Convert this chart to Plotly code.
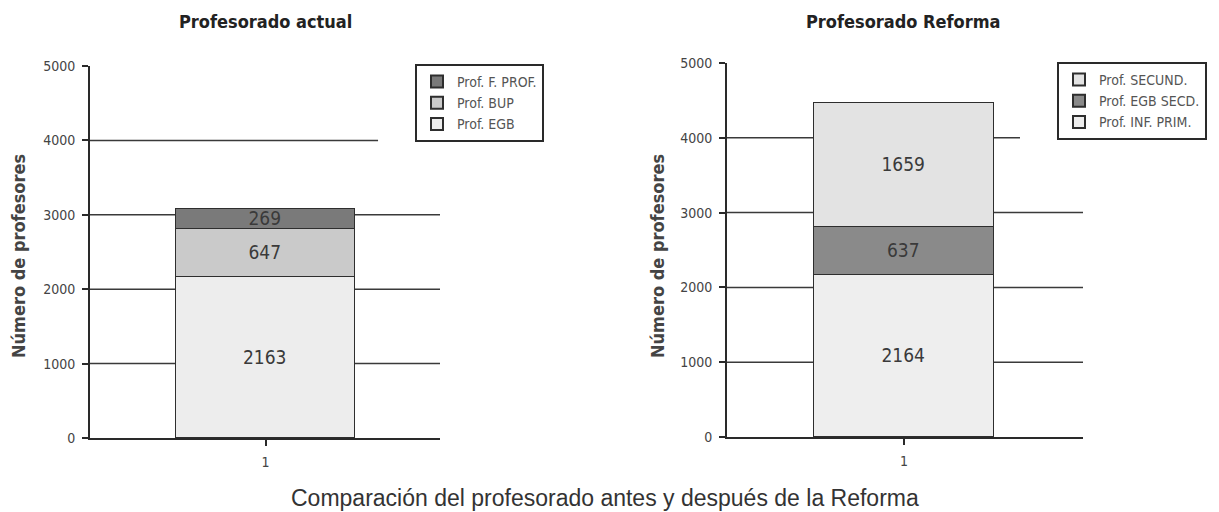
import plotly.graph_objects as go

categories = [1]
actual_labels = ["Prof. EGB", "Prof. BUP", "Prof. F. PROF."]
actual_values = [2163, 647, 269]
reforma_labels = ["Prof. INF. PRIM.", "Prof. EGB SECD.", "Prof. SECUND."]
reforma_values = [2164, 637, 1659]
y_ticks = [0, 1000, 2000, 3000, 4000, 5000]
grid_values = [1000, 2000, 3000, 4000]

actual_colors = ["#ededed", "#cacaca", "#7a7a7a"]
reforma_colors = ["#eeeeee", "#8a8a8a", "#e3e3e3"]

NARROW = "Liberation Sans Narrow, DejaVu Sans Condensed, Arial Narrow, sans-serif"
WIDE = "Liberation Sans, Arial, sans-serif"

fig = go.Figure()

for lab, val, col in zip(actual_labels, actual_values, actual_colors):
    fig.add_trace(go.Bar(
        x=categories, y=[val], name=lab, xaxis="x", yaxis="y",
        marker=dict(color=col, line=dict(color="#2e2e2e", width=1.5)),
        width=1.03, text=[str(val)], textposition="inside",
        insidetextanchor="middle", textangle=0,
        textfont=dict(family=NARROW, size=19, color="#3a3a3a"),
        legend="legend", cliponaxis=False,
    ))

for lab, val, col in zip(reforma_labels, reforma_values, reforma_colors):
    fig.add_trace(go.Bar(
        x=categories, y=[val], name=lab, xaxis="x2", yaxis="y2",
        marker=dict(color=col, line=dict(color="#2e2e2e", width=1.5)),
        width=1.02, text=[str(val)], textposition="inside",
        insidetextanchor="middle", textangle=0,
        textfont=dict(family=NARROW, size=19, color="#3a3a3a"),
        legend="legend2", cliponaxis=False,
    ))

axis_common = dict(showgrid=False, zeroline=False, showline=True,
                   linecolor="#2a2a2a", linewidth=2, ticks="outside",
                   ticklen=6, tickcolor="#2a2a2a", tickwidth=1.5,
                   automargin=False,
                   tickfont=dict(family=NARROW, size=14, color="#444"))

fig.update_layout(
    width=1219, height=512,
    margin=dict(l=0, r=0, t=0, b=0, autoexpand=False),
    paper_bgcolor="white", plot_bgcolor="rgba(0,0,0,0)",
    barmode="stack", bargap=0,
    uniformtext=dict(mode="show", minsize=19),
    showlegend=True,
    xaxis=dict(domain=[90/1219, 440/1219], range=[-0.006, 2.0],
               tickvals=categories, ticktext=[str(c) for c in categories],
               ticklabelstandoff=4, **axis_common),
    yaxis=dict(domain=[74/512, 446/512], range=[0, 5000], tickvals=y_ticks,
               anchor="x", ticklabelstandoff=4, **axis_common),
    xaxis2=dict(domain=[727/1219, 1083/1219], range=[0.0, 2.01],
                tickvals=categories, ticktext=[str(c) for c in categories],
                anchor="y2", ticklabelstandoff=4, **axis_common),
    yaxis2=dict(domain=[75/512, 449/512], range=[0, 5000], tickvals=y_ticks,
                anchor="x2", ticklabelstandoff=4, **axis_common),
    legend=dict(x=415/1219, y=448/512, xanchor="left", yanchor="top",
                traceorder="reversed", bgcolor="white",
                bordercolor="#2a2a2a", borderwidth=2,
                font=dict(family=NARROW, size=14, color="#555"),
                itemsizing="constant", tracegroupgap=0, itemwidth=30),
    legend2=dict(x=1057/1219, y=450/512, xanchor="left", yanchor="top",
                 traceorder="reversed", bgcolor="white",
                 bordercolor="#2a2a2a", borderwidth=2,
                 font=dict(family=NARROW, size=14, color="#555"),
                 itemsizing="constant", tracegroupgap=0, itemwidth=30),
)

shapes = []
for xr, yr in (("x", "y"), ("x2", "y2")):
    for g in grid_values:
        shapes.append(dict(type="line", xref=f"{xr} domain", yref=yr,
                           x0=0, x1=0.823 if g == 4000 else 1.0, y0=g, y1=g,
                           line=dict(color="#3a3a3a", width=1.5), layer="below"))
fig.update_layout(shapes=shapes)

annotations = [
    dict(text="<b>Profesorado actual</b>", x=265/1219, y=491/512, xref="paper", yref="paper",
         xanchor="center", yanchor="middle", showarrow=False,
         font=dict(family=NARROW, size=18, color="#222")),
    dict(text="<b>Profesorado Reforma</b>", x=903/1219, y=491/512, xref="paper", yref="paper",
         xanchor="center", yanchor="middle", showarrow=False,
         font=dict(family=NARROW, size=18, color="#222")),
    dict(text="<b>Número de profesores</b>", x=18/1219, y=256/512, xref="paper", yref="paper",
         xanchor="center", yanchor="middle", textangle=-90, showarrow=False,
         font=dict(family=NARROW, size=18, color="#444")),
    dict(text="<b>Número de profesores</b>", x=657/1219, y=256/512, xref="paper", yref="paper",
         xanchor="center", yanchor="middle", textangle=-90, showarrow=False,
         font=dict(family=NARROW, size=18, color="#444")),
    dict(text="Comparación del profesorado antes y después de la Reforma", x=605/1219, y=14/512,
         xref="paper", yref="paper", xanchor="center", yanchor="middle", showarrow=False,
         font=dict(family=WIDE, size=23, color="#333")),
]
fig.update_layout(annotations=annotations)

fig.write_html("out.html", config={"displayModeBar": False},
               post_script="document.body.style.margin='0';document.body.style.overflow='hidden';")
